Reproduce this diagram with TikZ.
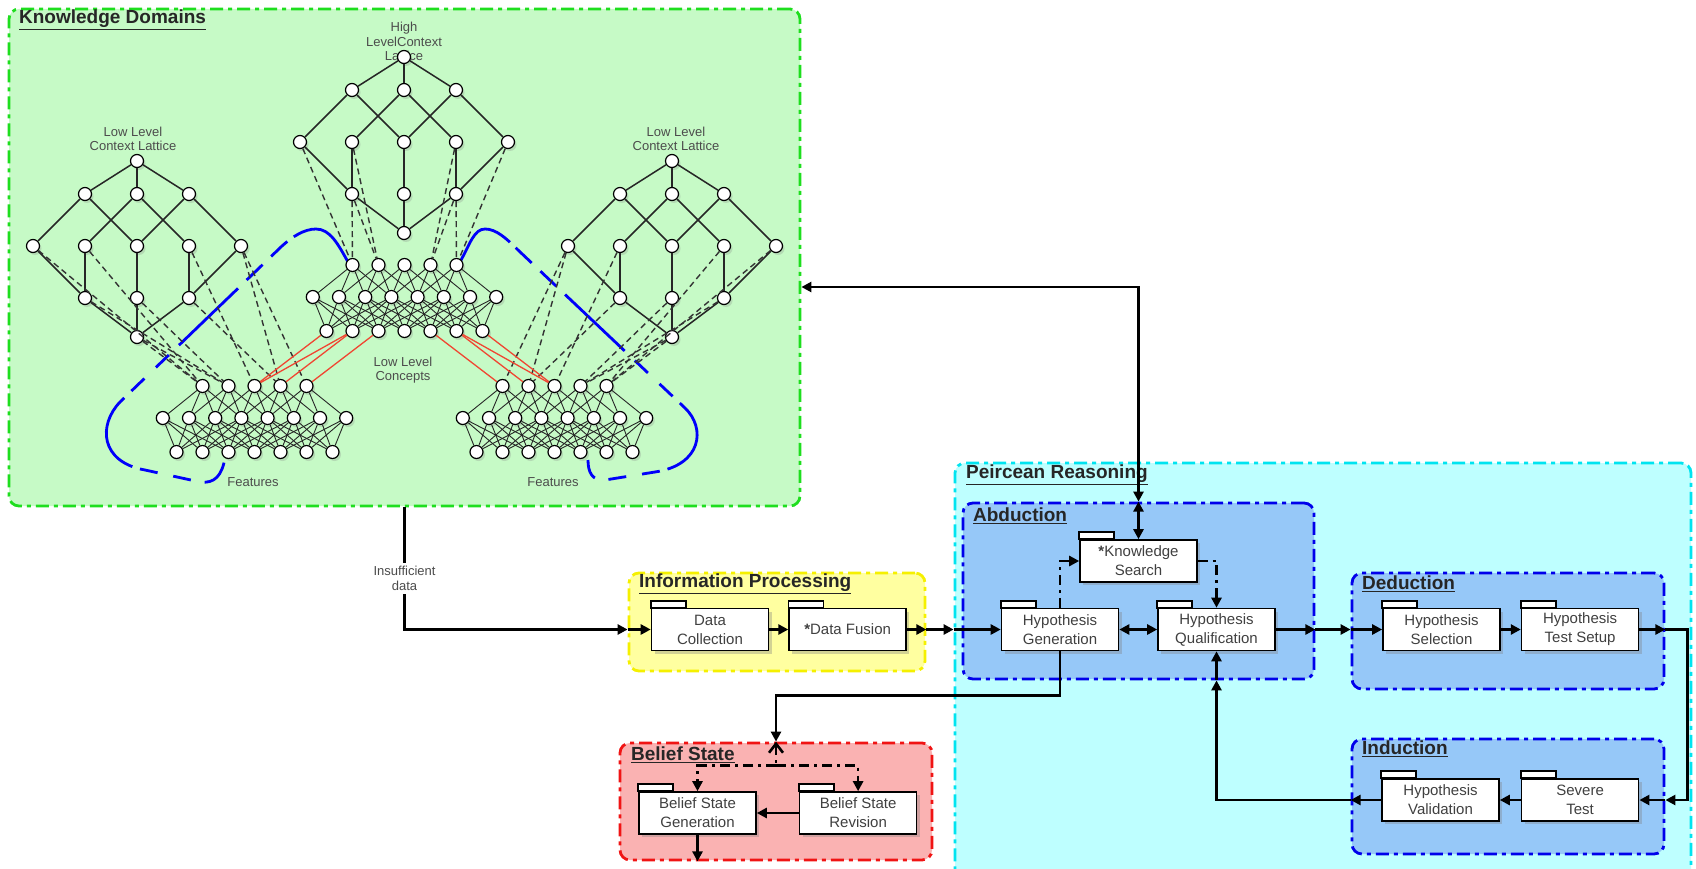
\documentclass[tikz,border=0pt]{standalone}
\usepackage{fontspec}
\setmainfont{Liberation Sans}
\usetikzlibrary{arrows.meta,shadows,positioning}

\definecolor{kdfill}{RGB}{198,250,198}
\definecolor{kdline}{RGB}{30,222,30}
\definecolor{prfill}{RGB}{190,255,255}
\definecolor{prline}{RGB}{0,228,240}
\definecolor{abfill}{RGB}{150,200,248}
\definecolor{abline}{RGB}{0,0,235}
\definecolor{ipfill}{RGB}{255,255,160}
\definecolor{ipline}{RGB}{245,240,0}
\definecolor{bsfill}{RGB}{250,178,178}
\definecolor{bsline}{RGB}{240,20,20}
\definecolor{linkred}{RGB}{240,70,50}
\definecolor{hullblue}{RGB}{0,0,250}

\tikzset{
  >={Triangle[length=10pt,width=10pt]},
  grp/.style={draw=#1, rounded corners=10pt, line width=2.8pt,
    dash pattern=on 13pt off 5pt on 4pt off 5pt, inner sep=0pt},
  grptitle/.style={anchor=west, font=\fontsize{19}{22}\selectfont\bfseries, text=black!85},
  lbl/.style={font=\fontsize{13}{14.5}\selectfont, text=black!70, align=center},
  ball/.style={circle, draw, fill=white, line width=1.2pt, inner sep=0pt, minimum size=13pt,
    drop shadow={shadow xshift=2pt, shadow yshift=-2.5pt, opacity=.25}},
  latedge/.style={line width=1.5pt, black!85},
  netedge/.style={line width=.9pt, black!85},
  mapline/.style={line width=1.4pt, black!80, dash pattern=on 6pt off 4pt},
  redline/.style={line width=1.3pt, linkred},
  hull/.style={line width=2.8pt, hullblue, dash pattern=on 72pt off 8pt on 22pt off 12pt
    on 22pt off 12pt on 82pt off 14pt on 18pt off 16pt on 18pt off 10pt on 86pt off 8pt
    on 18pt off 16pt on 18pt off 14pt on 30pt},
  pkg/.style={draw, fill=white, line width=1.6pt, minimum width=117pt, minimum height=42pt,
    align=center, inner sep=0pt, font=\fontsize{15}{19}\selectfont, text=black!75,
    drop shadow={shadow xshift=3pt, shadow yshift=-3pt, opacity=.35}},
  tabbox/.style={draw, fill=white, line width=1.6pt},
  flow/.style={line width=2.6pt, ->},
  ddflow/.style={flow, dash pattern=on 10pt off 5pt on 3pt off 5pt},
}

% concept lattice: name, centre x, top y
\newcommand\lattice[3]{%
  \node[ball] (#1t) at (#2,#3) {};
  \foreach \i in {1,2,3} \node[ball] (#1a\i) at (#2+52*\i-104,#3+33) {};
  \foreach \i in {1,...,5} \node[ball] (#1b\i) at (#2+52*\i-156,#3+85) {};
  \foreach \i in {1,2,3} \node[ball] (#1c\i) at (#2+52*\i-104,#3+137) {};
  \node[ball] (#1d) at (#2,#3+176) {};
  \foreach \p/\q in {t/a1,t/a2,t/a3,a1/b1,a1/b3,a2/b2,a2/b4,a3/b3,a3/b5,
                     b1/c1,b2/c1,b3/c2,b4/c3,b5/c3,c1/d,c2/d,c3/d}
    \draw[latedge] (#1\p) -- (#1\q);
}

% three layer net: name, centre x, top y
\newcommand\network[3]{%
  \foreach \i in {1,...,5} \node[ball] (#1t\i) at (#2+26*\i-78,#3) {};
  \foreach \j in {1,...,8} \node[ball] (#1m\j) at (#2+26.2*\j-117.9,#3+32) {};
  \foreach \k in {1,...,7} \node[ball] (#1b\k) at (#2+26*\k-104,#3+66) {};
  \foreach \i in {1,...,5} \foreach \j in {1,...,8} {
    \pgfmathtruncatemacro\dd{\j-\i}
    \ifnum\dd>-1 \ifnum\dd<4 \draw[netedge] (#1t\i) -- (#1m\j); \fi\fi}
  \foreach \k in {1,...,7} \foreach \j in {1,...,8} {
    \pgfmathtruncatemacro\dd{\j-\k}
    \ifnum\dd>-3 \ifnum\dd<4 \draw[netedge] (#1m\j) -- (#1b\k); \fi\fi}
}

\begin{document}
\begin{tikzpicture}[x=1pt,y=-1pt]
  \useasboundingbox (0,0) rectangle (1696,869);

  % groups
  \node[grp=kdline, fill=kdfill, minimum width=791pt, minimum height=497pt] (kd) at (404.5,257.5) {};
  \node[grp=prline, fill=prfill, minimum width=736pt, minimum height=417pt] (pr) at (1323,671.5) {};
  \node[grp=abline, fill=abfill, minimum width=351pt, minimum height=176pt] (ab) at (1138.5,591) {};
  \node[grp=abline, fill=abfill, minimum width=312pt, minimum height=116pt] (de) at (1508,631) {};
  \node[grp=abline, fill=abfill, minimum width=312pt, minimum height=115pt] (in) at (1508,796.5) {};
  \node[grp=ipline, fill=ipfill, minimum width=296pt, minimum height=98pt] (ip) at (777,622) {};
  \node[grp=bsline, fill=bsfill, minimum width=312pt, minimum height=117pt] (bs) at (776,801.5) {};

  \node[grptitle] at ([xshift=8pt,yshift=-12pt]kd.north west) {\underline{Knowledge Domains}};
  \node[grptitle] at ([xshift=9pt,yshift=-13pt]pr.north west) {\underline{Peircean Reasoning}};
  \node[grptitle] at ([xshift=8pt,yshift=-14pt]ab.north west) {\underline{Abduction}};
  \node[grptitle] at ([xshift=8pt,yshift=-12pt]de.north west) {\underline{Deduction}};
  \node[grptitle] at ([xshift=8pt,yshift=-11pt]in.north west) {\underline{Induction}};
  \node[grptitle] at ([xshift=8pt,yshift=-12pt]ip.north west) {\underline{Information Processing}};
  \node[grptitle] at ([xshift=9pt,yshift=-13pt]bs.north west) {\underline{Belief State}};

  % knowledge domains
  \node[lbl] (hilbl) at (404,41.5) {High\\LevelContext\\Lattice};
  \node[lbl] (llbl) at (133,139) {Low Level\\Context Lattice};
  \node[lbl] (rlbl) at (676,139) {Low Level\\Context Lattice};
  \node[lbl] (clbl) at (403,370) {Low Level\\Concepts};
  \node[lbl] (fllbl) at (253,482) {Features};
  \node[lbl] (frlbl) at (553,482) {Features};

  \draw[hull] (348,262) .. controls (338,244) and (330,229) .. (316,229)
    .. controls (304,229) and (292,237) .. (282,246) -- (120,402)
    .. controls (98,425) and (100,462) .. (145,470) -- (200,482)
    .. controls (215,484) and (222,475) .. (225,458);
  \draw[hull] (460,262) .. controls (470,244) and (474,229) .. (485,229)
    .. controls (496,229) and (506,238) .. (518,250) -- (685,408)
    .. controls (706,428) and (702,465) .. (655,472) -- (605,480)
    .. controls (592,481) and (588,472) .. (588,460);

  \lattice{H}{404}{57}
  \lattice{L}{137}{161}
  \lattice{R}{672}{161}
  \network{C}{404.5}{265}
  \network{FL}{254.5}{386}
  \network{FR}{554.5}{386}

  \foreach \p/\q in {Hb1/Ct1,Hc1/Ct1,Hb2/Ct2,Hc1/Ct2,Hc3/Ct4,Hb4/Ct4,Hc3/Ct5,Hb5/Ct5,
                     Lb1/FLt1,Lb2/FLt1,Lc1/FLt2,Ld/FLt1,Ld/FLt2,Lc2/FLt2,Lb4/FLt3,Lc3/FLt4,Lb5/FLt5,Lb5/FLt4,
                     Rb5/FRt5,Rb4/FRt5,Rc3/FRt4,Rd/FRt5,Rd/FRt4,Rc2/FRt4,Rb2/FRt3,Rc1/FRt2,Rb1/FRt1,Rb1/FRt2}
    \draw[mapline] (\p) -- (\q);
  \foreach \p/\q in {Cb1/FLt3,Cb2/FLt3,Cb2/FLt4,Cb3/FLt5,Cb5/FRt1,Cb6/FRt2,Cb6/FRt3,Cb7/FRt3}
    \draw[redline] (\p) -- (\q);

  % process boxes
  \node[pkg] (dc) at (710,629.5) {Data\\Collection};
  \node[pkg, right=19pt of dc] (df) {{\bfseries *}Data Fusion};
  \node[pkg] (hg) at (1060,629.5) {Hypothesis\\Generation};
  \node[pkg] (hq) at (1216.5,629.5) {Hypothesis\\Qualification};
  \node[pkg] (ks) at (1138.5,561) {{\bfseries *}Knowledge\\Search};
  \node[pkg] (hs) at (1441.5,629.5) {Hypothesis\\Selection};
  \node[pkg, right=20pt of hs] (hts) {Hypothesis\\Test Setup};
  \node[pkg] (hv) at (1440.5,800) {Hypothesis\\Validation};
  \node[pkg, right=21pt of hv] (st) {Severe\\Test};
  \node[pkg] (bsg) at (697.5,813) {Belief State\\Generation};
  \node[pkg, right=42pt of bsg] (bsr) {Belief State\\Revision};
  \foreach \n in {dc,df,hg,hq,ks,hs,hts,hv,st,bsg,bsr}
    \draw[tabbox] (\n.north west) rectangle ++(35pt,7pt);

  % connectors
  \draw[flow] (kd.south) |- (ip.west |- dc.west)
    node[lbl, fill=white, pos=.29] {Insufficient\\data};
  \draw[flow] (ip.west |- dc.west) -- (dc);
  \draw[flow] (dc) -- (df);
  \draw[flow] (df) -- (ip.east |- df);
  \draw[flow] (ip.east |- df) -- (pr.west |- df);
  \draw[flow] (pr.west |- df) -- (hg);
  \draw[flow, <->] (hg) -- (hq);
  \draw[ddflow] (hg.north) |- (ks);
  \draw[ddflow] (ks) -| (hq.north);
  \draw[flow, <->] (ab.north) -- (ks);
  \draw[flow, <->] (ab.north) |- ([yshift=-29.5pt]kd.east);

  \draw[flow] (hq) -- (ab.east |- hq);
  \draw[flow] (ab.east |- hq) -- (de.west |- hq);
  \draw[flow] (de.west |- hq) -- (hs);
  \draw[flow] (hs) -- (hts);
  \draw[flow] (hts) -- (de.east |- hts);
  \draw[flow] (de.east |- hts) -- ++(22,0) |- (in.east |- st);
  \draw[flow] (in.east |- st) -- (st);
  \draw[flow] (st) -- (hv);
  \draw[flow] (hv) -- (in.west |- hv);
  \draw[flow] (in.west |- hv) -| (ab.south -| hq);
  \draw[flow] (ab.south -| hq) -- (hq);

  \draw[flow] (hg) |- ([yshift=46pt]bs.north) -- (bs.north);
  \coordinate (fork) at ([yshift=-24pt]bs.north);
  \draw[ddflow, {Straight Barb[length=9pt,width=14pt]}-] (bs.north) -- (fork);
  \draw[ddflow] (fork) -| (bsg);
  \draw[ddflow] (fork) -| (bsr);
  \draw[flow] (bsr) -- (bsg);
  \draw[flow] (bsg) -- (bs.south -| bsg);
\end{tikzpicture}
\end{document}
